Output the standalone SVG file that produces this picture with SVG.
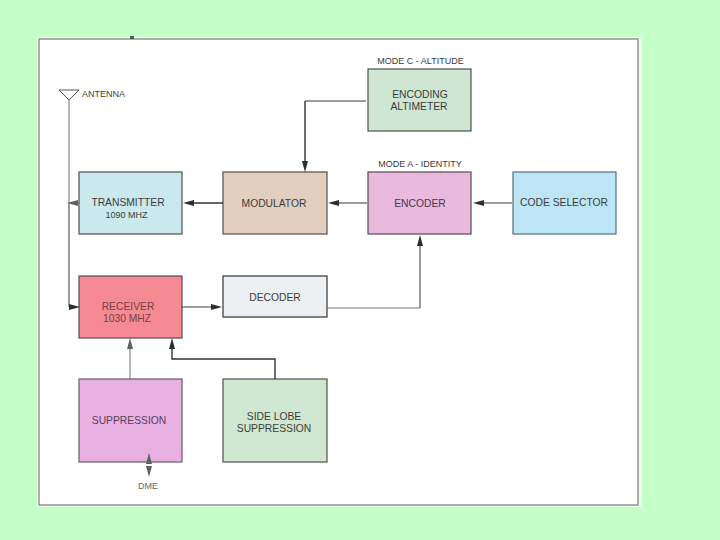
<svg xmlns="http://www.w3.org/2000/svg" width="720" height="540" viewBox="0 0 720 540">
<style>
.n{stroke:#4f4f4f;stroke-width:1.2}
text{font-family:"Liberation Sans",Arial,sans-serif;font-size:10.3px;fill:#3c3c3c;text-anchor:middle}
.s{font-size:9px}
.c{fill:none;stroke:#383838;stroke-width:1}
.t{fill:none;stroke:#333;stroke-width:1.4}
.g{fill:none;stroke:#707070;stroke-width:1}
.h{fill:#2e2e2e}
.hg{fill:#606060}
</style>
<rect width="720" height="540" fill="#c3ffc6"/>
<rect x="37" y="37" width="605" height="470" fill="#e8ffe9"/>
<rect x="39" y="39" width="599" height="466" fill="#fff" stroke="#8f8a90" stroke-width="1.4"/>
<rect x="130" y="36" width="4" height="3" fill="#555"/>
<g id="antenna">
<path d="M59 90H79L69 100Z" fill="none" stroke="#555" stroke-width="1"/>
<text class="s" x="82" y="97" style="text-anchor:start">ANTENNA</text>
</g>
<g id="altimeter">
<rect class="n" x="368" y="69" width="103" height="62" fill="#cfe6d2"/>
<text class="s" x="420.5" y="64">MODE C - ALTITUDE</text>
<text x="420" y="98">ENCODING</text>
<text x="419" y="110">ALTIMETER</text>
</g>
<g id="transmitter">
<rect class="n" x="79" y="172" width="103" height="62" fill="#c9e9ec"/>
<text x="128" y="206">TRANSMITTER</text>
<text class="s" x="126.500" y="218">1090 MHZ</text>
</g>
<g id="modulator">
<rect class="n" x="223" y="172" width="104" height="62" fill="#e3cfc0"/>
<text x="274" y="207">MODULATOR</text>
</g>
<g id="encoder">
<rect class="n" x="368" y="172" width="103" height="62" fill="#eab9de"/>
<text class="s" x="420" y="167">MODE A - IDENTITY</text>
<text x="420" y="207" style="fill:#4a3550">ENCODER</text>
</g>
<g id="code-selector">
<rect class="n" x="513" y="172" width="103" height="62" fill="#bde5f6" style="stroke:#55707d"/>
<text x="564" y="206">CODE SELECTOR</text>
</g>
<g id="receiver">
<rect class="n" x="79" y="276" width="103" height="62" fill="#f58a92"/>
<text x="128" y="310" style="fill:#7a3d44">RECEIVER</text>
<text x="127" y="322" style="fill:#7a3d44">1030 MHZ</text>
</g>
<g id="decoder">
<rect class="n" x="223" y="276" width="104" height="41" fill="#ecf0f2" style="stroke:#333"/>
<text x="275" y="301">DECODER</text>
</g>
<g id="suppression">
<rect class="n" x="79" y="379" width="103" height="83" fill="#e8b0e0" style="stroke:#6a5a6a"/>
<text x="129" y="424" style="fill:#55405a">SUPPRESSION</text>
</g>
<g id="side-lobe">
<rect class="n" x="223" y="379" width="104" height="83" fill="#d0e8d2"/>
<text x="274" y="420">SIDE LOBE</text>
<text x="274" y="432">SUPPRESSION</text>
</g>
<text class="s" x="148" y="489" style="fill:#666">DME</text>
<g id="connectors">
<path class="g" d="M69 100V203"/>
<path class="c" d="M69 203V307H72"/>
<path class="g" d="M72 203H79"/>
<path class="hg" d="M67 203L78 200V206Z"/>
<path class="h" d="M80 307L69 304V310Z"/>
<path class="t" d="M223 203H190"/>
<path class="h" d="M183 203L194 200V206Z"/>
<path class="c" d="M367 203H335"/>
<path class="h" d="M328 203L339 200V206Z"/>
<path class="c" d="M512 203H480"/>
<path class="h" d="M473 203L484 200V206Z"/>
<path class="c" d="M366 101H305"/>
<path class="t" d="M305 101V165"/>
<path class="h" d="M305 172L302 161H308Z"/>
<path class="c" d="M182 307H215"/>
<path class="h" d="M222 307L211 304V310Z"/>
<path class="g" d="M327 308H420"/>
<path class="c" d="M420 308V245"/>
<path class="h" d="M420 235L417 246H423Z"/>
<path class="g" d="M130 379V345"/>
<path class="hg" d="M130 338L127 349H133Z"/>
<path class="t" d="M275 379V359H172V345"/>
<path class="h" d="M172 338L169 349H175Z"/>
<path class="hg" d="M149 453L146 464H152Z"/>
<path class="hg" d="M149 477L146 466H152Z"/>
</g>
</svg>
